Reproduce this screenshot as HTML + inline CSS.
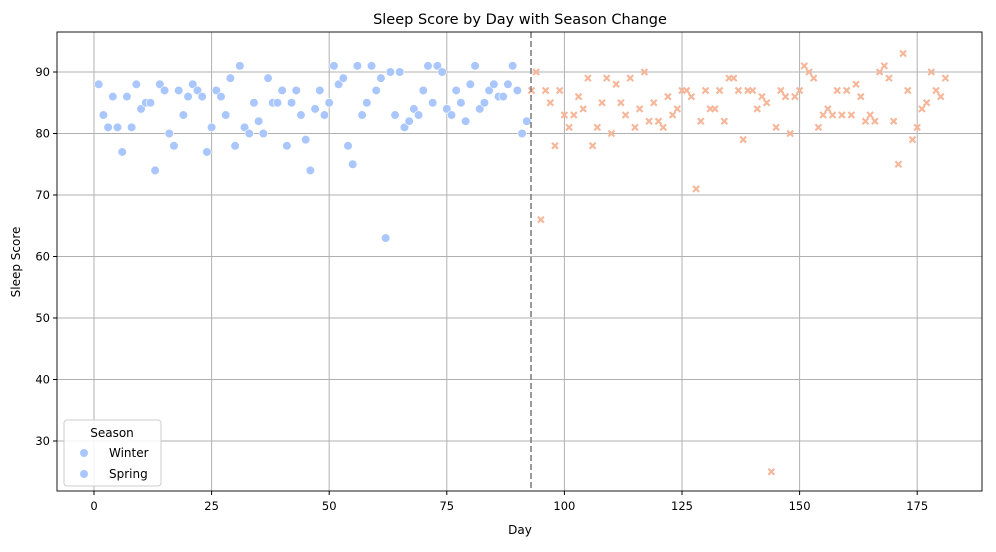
<!DOCTYPE html>
<html><head><meta charset="utf-8"><style>
body{margin:0;background:#fff;font-family:"Liberation Sans","DejaVu Sans",sans-serif;}
svg text{font-family:"DejaVu Sans","Liberation Sans",sans-serif;}
</style></head><body>
<svg id="chart" width="996" height="547" xmlns="http://www.w3.org/2000/svg">
<rect width="996" height="547" fill="#fff"/>
<text x="520" y="24" font-size="14.5" text-anchor="middle" fill="#000">Sleep Score by Day with Season Change</text>
<g id="grid"></g><g id="marks"></g><g id="axes"></g>
<rect x="57" y="32" width="925" height="459" fill="none" stroke="#000" stroke-width="0.9"/>
<text x="520" y="534" font-size="12" text-anchor="middle">Day</text>
<text x="20" y="262" font-size="12" text-anchor="middle" transform="rotate(-90 20 262)">Sleep Score</text>
<g>
<rect x="64" y="420" width="97" height="66" rx="3" fill="#fff" fill-opacity="0.85" stroke="#ccc"/>
<text x="112" y="437" font-size="12" text-anchor="middle">Season</text>
<circle cx="84" cy="453" r="4" fill="#aac7fd"/>
<text x="109" y="457" font-size="12">Winter</text>
<circle cx="84" cy="474" r="4" fill="#aac7fd"/>
<text x="109" y="478" font-size="12">Spring</text>
</g>
</svg>
<script>
const winterValues=[88,83,81,86,81,77,86,81,88,84,85,85,74,88,87,80,78,87,83,86,88,87,86,77,81,87,86,83,89,78,91,81,80,85,82,80,89,85,85,87,78,85,87,83,79,74,84,87,83,85,91,88,89,78,75,91,83,85,91,87,89,63,90,83,90,81,82,84,83,87,91,85,91,90,84,83,87,85,82,88,91,84,85,87,88,86,86,88,91,87,80,82];
const springValues=[87,90,66,87,85,78,87,83,81,83,86,84,89,78,81,85,89,80,88,85,83,89,81,84,90,82,85,82,81,86,83,84,87,87,86,71,82,87,84,84,87,82,89,89,87,79,87,87,84,86,85,25,81,87,86,80,86,87,91,90,89,81,83,84,83,87,83,87,83,88,86,82,83,82,90,91,89,82,75,93,87,79,81,84,85,90,87,86,89];
const xTicks=[0,25,50,75,100,125,150,175];
const yTicks=[30,40,50,60,70,80,90];
const seasonChangeDay=93;
const winterStart=1;
const X=d=>94+(d*117.6/25);
const Y=v=>72+(90-v)*6.15;
const NS="http://www.w3.org/2000/svg";
function mk(tag,attrs,parent){const e=document.createElementNS(NS,tag);for(const k in attrs)e.setAttribute(k,attrs[k]);parent.appendChild(e);return e;}
const grid=document.getElementById('grid'),axes=document.getElementById('axes'),marks=document.getElementById('marks');
xTicks.forEach(t=>{const x=X(t);
const g=mk('line',{x1:x,x2:x,y1:32,y2:491,stroke:'#b0b0b0','stroke-width':1},grid);


mk('line',{x1:x,x2:x,y1:491,y2:495,stroke:'#000'},axes);
const tx=mk('text',{x:x,y:510,'font-size':11.5,'text-anchor':'middle'},axes);tx.textContent=t;

});
yTicks.forEach(t=>{const y=Y(t);
const g=mk('line',{x1:57,x2:982,y1:y,y2:y,stroke:'#b0b0b0','stroke-width':1},grid);


mk('line',{x1:53,x2:57,y1:y,y2:y,stroke:'#000'},axes);
const tx=mk('text',{x:50,y:y+4,'font-size':11.5,'text-anchor':'end'},axes);tx.textContent=t;

});
winterValues.forEach((v,i)=>{const c=mk('circle',{cx:X(winterStart+i),cy:Y(v),r:4.3,fill:'#aac7fd',stroke:'#fff','stroke-width':0.6},marks);

});
springValues.forEach((v,i)=>{const x=X(seasonChangeDay+i),y=Y(v),s=3;
const p=mk('path',{d:`M${x-s} ${y-s}L${x+s} ${y+s}M${x-s} ${y+s}L${x+s} ${y-s}`,stroke:'#f6b699','stroke-width':2.1},marks);

});
const dl=mk('line',{x1:X(seasonChangeDay-0.1),x2:X(seasonChangeDay-0.1),y1:32,y2:491,stroke:'#808080','stroke-width':1.6,'stroke-dasharray':'6,3'},marks);


</script>
</body></html>
